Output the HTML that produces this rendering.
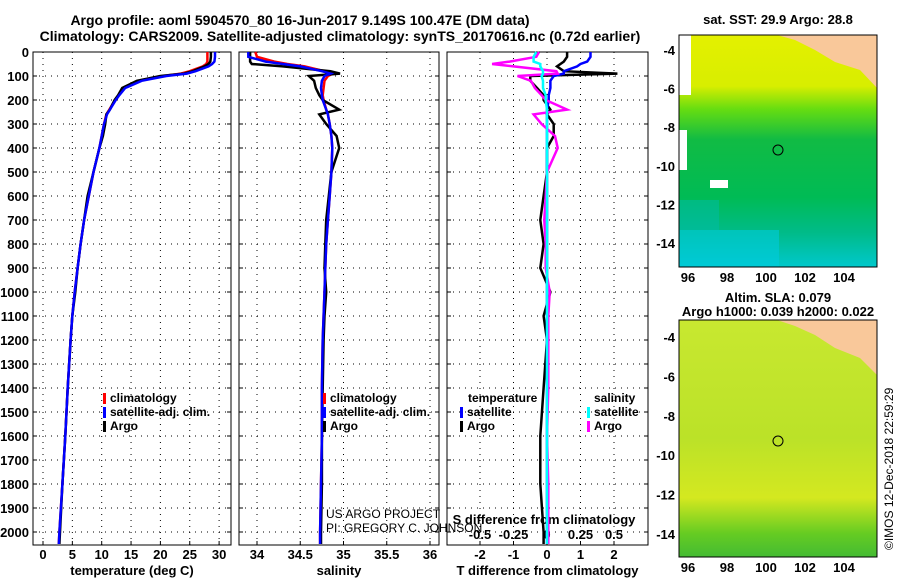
<!DOCTYPE html>
<html><head><meta charset="utf-8"><style>
body{margin:0;background:#fff;}
svg{display:block;font-family:"Liberation Sans",sans-serif;}
.t{font-weight:bold;font-size:13px;fill:#000;}
</style></head><body>
<svg id="fig" width="900" height="580" viewBox="0 0 900 580">
<defs>
<linearGradient id="sstg" x1="0" y1="0" x2="0" y2="1">
<stop offset="0" stop-color="#e4f000"/><stop offset="0.22" stop-color="#d8ee00"/><stop offset="0.32" stop-color="#66dd11"/><stop offset="0.45" stop-color="#11bb44"/><stop offset="0.7" stop-color="#00bb55"/><stop offset="0.85" stop-color="#00bb88"/><stop offset="1" stop-color="#00c8cc"/></linearGradient>
<linearGradient id="slag" x1="0" y1="0" x2="0" y2="1">
<stop offset="0" stop-color="#c8e830"/><stop offset="0.5" stop-color="#bbe228"/><stop offset="0.75" stop-color="#d4e820"/><stop offset="0.9" stop-color="#66cc22"/><stop offset="1" stop-color="#44bb33"/></linearGradient>
</defs>
<text x="300" y="25" text-anchor="middle" font-size="14" font-weight="bold">Argo profile: aoml 5904570_80 16-Jun-2017 9.149S 100.47E (DM data)</text>
<text x="340" y="41" text-anchor="middle" font-size="14" font-weight="bold">Climatology: CARS2009. Satellite-adjusted climatology: synTS_20170616.nc (0.72d earlier)</text>
<g id="plots"></g>
<g id="maps">
<rect x="679" y="35" width="198" height="232" fill="url(#sstg)"/>
<rect x="679" y="35" width="12" height="60" fill="#fff"/>
<rect x="679" y="130" width="8" height="40" fill="#fff"/>
<rect x="710" y="180" width="18" height="8" fill="#fff"/>
<rect x="679" y="200" width="40" height="30" fill="#00bbaa" opacity="0.5"/>
<rect x="679" y="230" width="100" height="37" fill="#00ccdd" opacity="0.6"/>
<polygon points="777,35 877,35 877,88 860,70 835,62 815,50 795,40" fill="#f9c89a"/>
<circle cx="778" cy="150" r="5" fill="none" stroke="#000"/>
<rect x="679" y="35" width="198" height="232" fill="none" stroke="#000"/>
<rect x="679" y="320" width="198" height="237" fill="url(#slag)"/>
<polygon points="777,320 877,320 877,375 860,358 835,348 815,335 795,326" fill="#f9c89a"/>
<circle cx="778" cy="441" r="5" fill="none" stroke="#000"/>
<rect x="679" y="320" width="198" height="237" fill="none" stroke="#000"/>
<text x="778" y="24" text-anchor="middle" class="t" font-size="12">sat. SST: 29.9 Argo: 28.8</text>
<text x="778" y="302" text-anchor="middle" class="t" font-size="12">Altim. SLA: 0.079</text>
<text x="778" y="316" text-anchor="middle" class="t" font-size="12">Argo h1000: 0.039 h2000: 0.022</text>
<text transform="translate(893,550) rotate(-90)" font-size="12">©IMOS 12-Dec-2018 22:59:29</text>
</g>
</svg>
<script>
const depthTicks=[0,100,200,300,400,500,600,700,800,900,1000,1100,1200,1300,1400,1500,1600,1700,1800,1900,2000];
const tempTicks=[0,5,10,15,20,25,30];
const salTicks=[34,34.5,35,35.5,36];
const salTickLabels=["34","34.5","35","35.5","36"];
const tdiffTicks=[-2,-1,0,1,2];
const sdiffTicks=[-0.5,-0.25,0,0.25,0.5];
const lonTicks=[96,98,100,102,104];
const latTicks=[-4,-6,-8,-10,-12,-14];
const depths=[0,20,40,50,60,80,90,100,120,150,180,200,240,260,300,350,400,500,600,700,800,900,1000,1100,1200,1400,1600,1800,2000,2050];
const tempArgo=[28.6,28.6,28.5,28.2,27.5,25.5,24,20,16,13.5,12.8,12.2,11.4,10.8,10.6,10.2,9.6,8.6,7.6,7,6.4,5.9,5.5,5,4.7,4.2,3.8,3.3,2.9,2.8];
const tempClim=[28,28,28,27.8,27.2,25,23.5,20.5,16.5,13.8,12.9,12.3,11.3,10.8,10.4,10,9.6,8.6,7.8,7,6.4,5.9,5.4,5,4.7,4.2,3.8,3.3,2.8,2.7];
const tempSat=[29.3,29.3,29.2,28.8,28.2,26,24.5,21,16.8,14,13,12.4,11.4,10.9,10.4,10,9.6,8.6,7.8,7,6.4,5.9,5.4,5,4.7,4.2,3.8,3.3,2.8,2.7];
const salArgo=[33.92,33.92,33.92,33.94,34.3,34.85,34.96,34.6,34.66,34.68,34.72,34.76,34.95,34.72,34.8,34.92,34.95,34.86,34.83,34.8,34.79,34.78,34.8,34.78,34.77,34.76,34.75,34.75,34.74,34.74];
const salClim=[33.98,34.0,34.2,34.35,34.55,34.78,34.88,34.82,34.78,34.77,34.76,34.77,34.8,34.82,34.84,34.86,34.87,34.86,34.84,34.82,34.8,34.79,34.78,34.77,34.76,34.75,34.75,34.74,34.73,34.73];
const salSat=[33.9,33.9,34.1,34.3,34.5,34.75,34.85,34.78,34.75,34.74,34.75,34.76,34.8,34.82,34.84,34.86,34.87,34.86,34.84,34.82,34.8,34.79,34.78,34.77,34.76,34.75,34.75,34.74,34.73,34.73];
const tdArgo=[0.6,0.6,0.5,0.4,0.3,0.5,2.1,-0.5,-0.5,-0.3,-0.1,-0.1,0.1,0,0.2,0.2,0,0,-0.1,-0.2,-0.1,-0.2,0.1,-0.1,0,-0.1,-0.2,-0.2,-0.1,-0.1];
const tdSat=[1.3,1.3,1.2,1.0,0.9,0.5,0.5,0.2,0.1,0.1,0.05,0.05,0,0,0,0,0,0,0,0,0,0,0,0,0,0,0,0,0,0];
const sdArgo=[-0.06,-0.08,-0.28,-0.41,-0.25,0.07,0.08,-0.22,-0.12,-0.09,-0.04,-0.01,0.15,-0.1,-0.04,0.06,0.08,0,-0.01,-0.02,-0.01,-0.01,0.02,0.01,0.01,0.01,0,0.01,0.01,0.01];
const sdSat=[-0.08,-0.1,-0.1,-0.05,-0.05,-0.03,-0.03,-0.04,-0.03,-0.03,-0.01,-0.01,0,0,0,0,0,0,0,0,0,0,0,0,0,0,0,0,0,0];
const NS="http://www.w3.org/2000/svg";
const root=document.getElementById('plots');
const Y0=52,PY=0.24,YB=545;
function yD(d){return Y0+d*PY;}
function mk(tag,at,parent){const e=document.createElementNS(NS,tag);for(const k in at)e.setAttribute(k,at[k]);(parent||root).appendChild(e);return e;}
function txt(x,y,s,anchor,size,weight){const e=mk('text',{x:x,y:y,'text-anchor':anchor||'middle','font-size':size||13,'font-weight':weight||'bold'});e.textContent=s;return e;}
const panels=[{x0:33,x1:231,fx:v=>43+v*5.87,xticks:tempTicks,lab:tempTicks.map(String),name:'temperature-panel',xl:'temperature (deg C)'},
{x0:239,x1:439,fx:v=>257+(v-34)*86.5,xticks:salTicks,lab:salTickLabels,name:'salinity-panel',xl:'salinity'},
{x0:447,x1:648,fx:v=>547+v*33.5,xticks:tdiffTicks,lab:tdiffTicks.map(String),name:'difference-panel',xl:'T difference from climatology'}];
panels.forEach((p,i)=>{
 const g=mk('g',{});
 
 
 depthTicks.forEach(d=>{mk('line',{x1:p.x0,x2:p.x1,y1:yD(d),y2:yD(d),stroke:'#000','stroke-dasharray':'1,5'},g);
  mk('line',{x1:p.x0,x2:p.x0+4,y1:yD(d),y2:yD(d),stroke:'#000'},g);mk('line',{x1:p.x1-4,x2:p.x1,y1:yD(d),y2:yD(d),stroke:'#000'},g);});
 p.xticks.forEach((v,k)=>{const x=p.fx(v);mk('line',{x1:x,x2:x,y1:Y0,y2:YB,stroke:'#000','stroke-dasharray':'1,5'},g);
  mk('line',{x1:x,x2:x,y1:YB-4,y2:YB,stroke:'#000'},g);
  const t=txt(x,559,p.lab[k]);
  
  });
 mk('rect',{x:p.x0,y:Y0,width:p.x1-p.x0,height:YB-Y0,fill:'none',stroke:'#000'},g);
 const xl=txt((p.x0+p.x1)/2,575,p.xl);
 
 
});
depthTicks.forEach(d=>{const t=txt(29,yD(d)+5,String(d),'end');
 
 });
sdiffTicks.forEach(v=>{const t=txt(547+v*134,539,String(v),'middle');
 
 });
{const t=txt(544,524,'S difference from climatology');
 
 }
function line(vals,fx,color,name){const pts=depths.map((d,i)=>fx(vals[i]).toFixed(1)+','+yD(d).toFixed(1)).join(' ');
 const e=mk('polyline',{points:pts,fill:'none',stroke:color,'stroke-width':2.5});
 
 }
const fT=panels[0].fx,fS=panels[1].fx,fTD=panels[2].fx,fSD=v=>547+v*134;
line(tempClim,fT,'#f00','temp-climatology-line');line(tempArgo,fT,'#000','temp-argo-line');line(tempSat,fT,'#00f','temp-satellite-line');
line(salClim,fS,'#f00','sal-climatology-line');line(salArgo,fS,'#000','sal-argo-line');line(salSat,fS,'#00f','sal-satellite-line');
line(tdArgo,fTD,'#000','tdiff-argo-line');line(tdSat,fTD,'#00f','tdiff-satellite-line');
line(sdArgo,fSD,'#f0f','sdiff-argo-line');line(sdSat,fSD,'#0ff','sdiff-satellite-line');
function legend(x,y,items,name){const g=mk('g',{});
 
 
 items.forEach((it,i)=>{if(it[1])mk('rect',{x:x,y:y+i*14-9,width:3,height:11,fill:it[1]},g);
  const t=txt(x+(it[1]?7:0),y+i*14,it[0],'start',12);g.appendChild(t);});}
legend(103,402,[['climatology','#f00'],['satellite-adj. clim.','#00f'],['Argo','#000']],'temp-legend');
legend(323,402,[['climatology','#f00'],['satellite-adj. clim.','#00f'],['Argo','#000']],'sal-legend');
legend(468,402,[['temperature',null]],'tdiff-legend-title');
legend(460,416,[['satellite','#00f'],['Argo','#000']],'tdiff-legend');
legend(594,402,[['salinity',null]],'sdiff-legend-title');
legend(587,416,[['satellite','#0ff'],['Argo','#f0f']],'sdiff-legend');
{const a=txt(326,518,'US ARGO PROJECT','start',12,'normal');
 
 
 const b=txt(326,532,'PI: GREGORY C. JOHNSON','start',12,'normal');
 
 }
[[35,267,50,19.3],[320,557,337,19.7]].forEach((m,mi)=>{
 lonTicks.forEach(v=>{const x=688+(v-96)*19.5;mk('line',{x1:x,x2:x,y1:m[1]-4,y2:m[1],stroke:'#000'});
  const t=txt(x,m[1]+15,String(v));
  
  });
 latTicks.forEach((v,k)=>{const y=m[2]+k*2*m[3];mk('line',{x1:873,x2:877,y1:y,y2:y,stroke:'#000'});
  const t=txt(675,y+5,String(v),'end');
  
  });
});
</script>
</body></html>
